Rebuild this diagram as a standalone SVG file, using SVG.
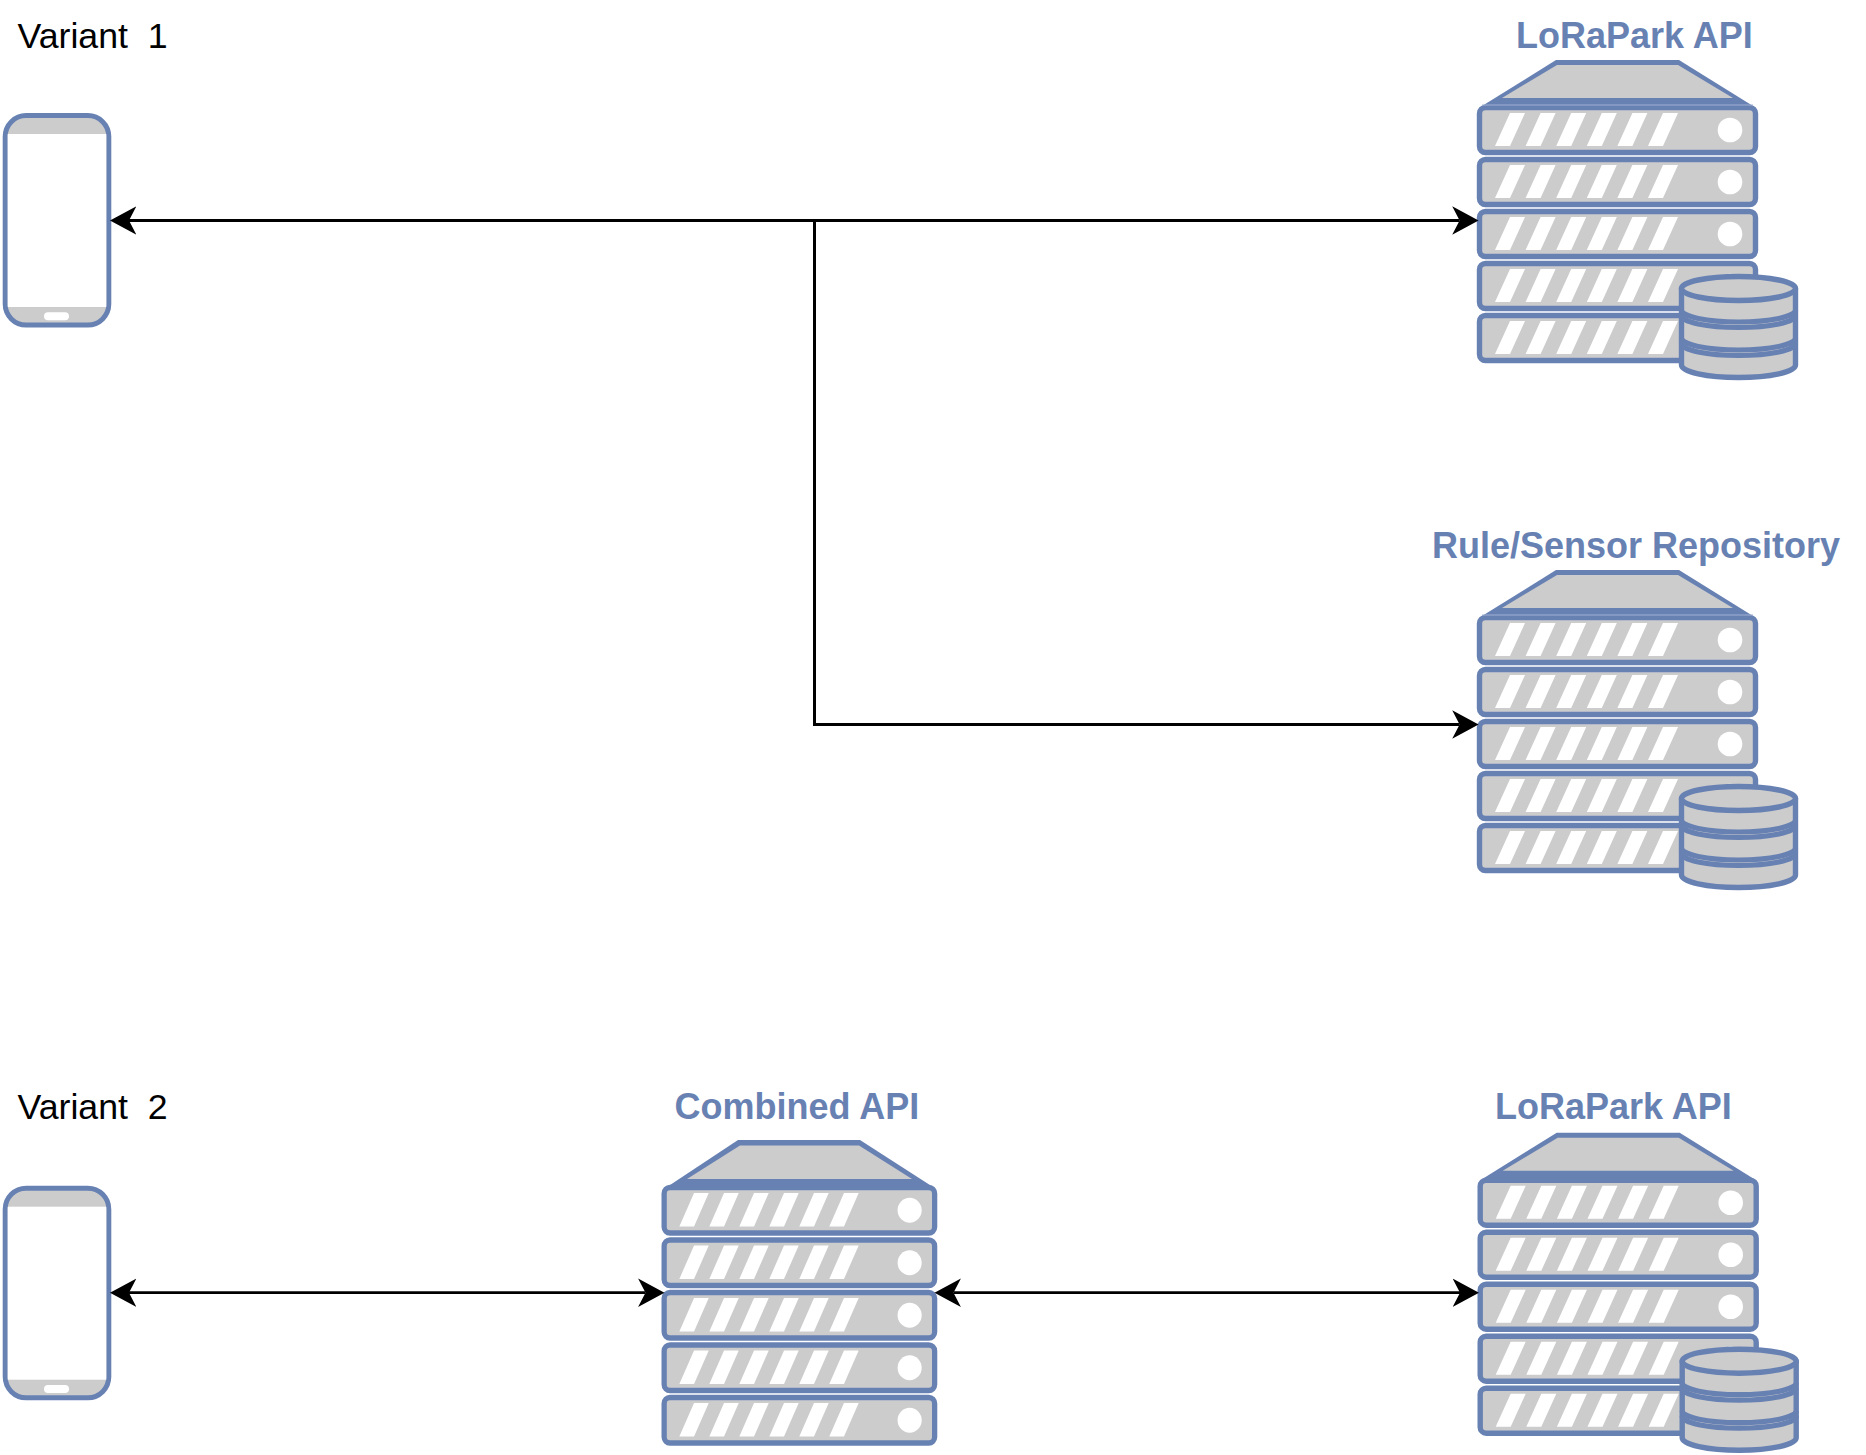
<svg xmlns="http://www.w3.org/2000/svg" xmlns:xlink="http://www.w3.org/1999/xlink" width="1866" height="1455" viewBox="0 0 1866 1455">
<style>
text{font-family:"Liberation Sans",Arial,sans-serif;font-size:35.7px;white-space:pre}
.title{fill:#000}
.label{fill:#6881B3;font-weight:bold;font-size:36px}
.wire{fill:none;stroke:#000;stroke-width:3}
.wire2{fill:none;stroke:#000;stroke-width:2.7}
.blue{fill:#6881B3}
.gray{fill:#CCCCCC}
.shell{fill:#CCCCCC;stroke:#6881B3;stroke-width:5.4;stroke-linejoin:round}
.band{fill:none;stroke:#6881B3;stroke-width:5.2}
.white{fill:#fff}
.seam{stroke:#9FB0D0;stroke-width:1}
</style>
<defs>
<marker id="head" markerUnits="userSpaceOnUse" markerWidth="27" markerHeight="30" viewBox="0 -15 27 30" refX="7.4" refY="0" orient="auto-start-reverse">
<path d="M0,-14.2 L26.4,0 L0,14.2 L7.4,0 Z" fill="#000"/>
</marker>
<g id="rack">
<rect class="shell" x="2.5" y="2.5" width="276" height="45" rx="6"/>
<path class="white" d="M18,41 L33,8 H48 L33,41 Z M48.6,41 L63.6,8 H78.6 L63.6,41 Z M79.2,41 L94.2,8 H109.2 L94.2,41 Z M109.8,41 L124.8,8 H139.8 L124.8,41 Z M140.4,41 L155.4,8 H170.4 L155.4,41 Z M171,41 L186,8 H201 L186,41 Z"/>
<circle class="white" cx="253" cy="25" r="12.3"/>
</g>
<g id="stack">
<polygon class="blue" points="5,46 79,0 202,0 276,46"/>
<polygon class="gray" points="25,38 80,5 201,5 256,38"/>
<use href="#rack" x="0" y="45"/>
<use href="#rack" x="0" y="97"/>
<use href="#rack" x="0" y="149"/>
<use href="#rack" x="0" y="201"/>
<use href="#rack" x="0" y="253"/>
</g>
<g id="db">
<path class="shell" d="M2.5,14.5 V91 A57,12.5 0 0 0 116.5,91 V14.5 Z"/>
<path class="band" d="M2.5,36 A57,12 0 0 0 116.5,36"/>
<path class="band" d="M2.5,41.5 A57,12 0 0 0 116.5,41.5"/>
<path class="band" d="M2.5,64 A57,12 0 0 0 116.5,64"/>
<path class="band" d="M2.5,69.5 A57,12 0 0 0 116.5,69.5"/>
<ellipse class="shell" cx="59.5" cy="14.5" rx="57" ry="12"/>
</g>
<g id="phone">
<rect x="5.2" y="2.2" width="103.6" height="209.6" rx="21" fill="#CCCCCC" stroke="#6881B3" stroke-width="5"/>
<rect class="white" x="7.7" y="20.7" width="98.6" height="173"/>
<rect class="white" x="44" y="199" width="25" height="8" rx="4"/>
</g>
</defs>
<rect width="1866" height="1455" fill="#fff"/>
<g id="title-variant-1"><text class="title" x="17.5" y="47.7">Variant  1</text></g>
<g id="title-variant-2"><text class="title" x="17.5" y="1118.6">Variant  2</text></g>
<g id="phone-1"><use href="#phone" transform="translate(0,113.3)"/></g>
<g id="phone-2"><use href="#phone" transform="translate(0,1186)"/></g>
<g id="lorapark-api-1">
<text class="label" x="1516" y="48.2">LoRaPark API</text>
<use href="#stack" transform="translate(1477,60)"/>
<line class="seam" x1="1482" y1="105" x2="1753" y2="105"/>
<use href="#db" transform="translate(1679,274)"/>
</g>
<g id="rule-sensor-repository">
<text class="label" x="1432" y="557.6">Rule/Sensor Repository</text>
<use href="#stack" transform="translate(1477,570)"/>
<line class="seam" x1="1482" y1="615" x2="1753" y2="615"/>
<use href="#db" transform="translate(1679,784)"/>
</g>
<g id="combined-api">
<text class="label" x="674.6" y="1118.6">Combined API</text>
<polygon class="blue" points="667,1187 738,1140 860,1140 933,1187"/>
<polygon class="gray" points="687,1179 740,1145.5 859,1145.5 912,1179"/>
<use href="#rack" transform="translate(661.7,1185) scale(.98,1.01)"/>
<use href="#rack" transform="translate(661.7,1237.5) scale(.98,1.01)"/>
<use href="#rack" transform="translate(661.7,1290) scale(.98,1.01)"/>
<use href="#rack" transform="translate(661.7,1342.5) scale(.98,1.01)"/>
<use href="#rack" transform="translate(661.7,1395) scale(.98,1.01)"/>
</g>
<g id="lorapark-api-2">
<text class="label" x="1495" y="1118.6">LoRaPark API</text>
<use href="#stack" transform="translate(1477.7,1132.7)"/>
<use href="#db" transform="translate(1679.7,1346.7)"/>
</g>
<g id="connectors">
<path class="wire" d="M129,220.5 H1459.6" marker-start="url(#head)" marker-end="url(#head)"/>
<path class="wire" d="M814.5,220.5 V724.5 H1459.6" marker-end="url(#head)"/>
<path class="wire2" d="M129,1292.7 H645.5" marker-start="url(#head)" marker-end="url(#head)"/>
<path class="wire2" d="M953.5,1292.7 H1460" marker-start="url(#head)" marker-end="url(#head)"/>
</g>
</svg>
